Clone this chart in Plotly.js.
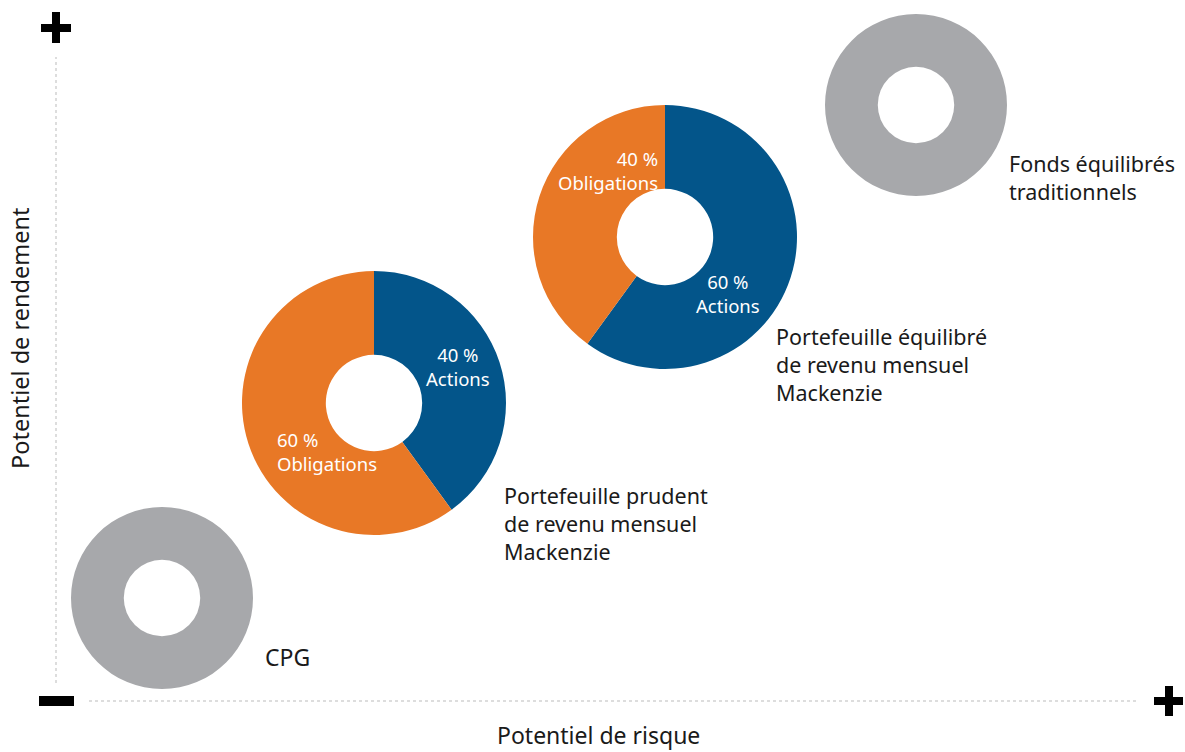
<!DOCTYPE html>
<html>
<head>
<meta charset="utf-8">
<script src="https://cdn.plot.ly/plotly-3.0.1.min.js"></script>
<style>html,body{margin:0;padding:0;background:#fff;}#chart{width:1185px;height:752px;}</style>
</head>
<body>
<div id="chart"></div>
<script>
// ---- data ----
const portfolios = ["CPG", "Portefeuille prudent<br>de revenu mensuel<br>Mackenzie", "Portefeuille équilibré<br>de revenu mensuel<br>Mackenzie", "Fonds équilibrés<br>traditionnels"];
const sliceLabels = [["CPG"], ["Actions", "Obligations"], ["Actions", "Obligations"], ["Fonds équilibrés"]];
const sliceValues = [[100], [40, 60], [60, 40], [100]];
const showPct = [false, true, true, false];
const xAxisTitle = "Potentiel de risque";
const yAxisTitle = "Potentiel de rendement";

// ---- layout config (positions in px) ----
const W = 1185, H = 752;
const pieGeom = [
  {cx: 162, cy: 598, r: 91, hole: 0.42},
  {cx: 374, cy: 403, r: 132, hole: 0.365},
  {cx: 665, cy: 237, r: 132, hole: 0.365},
  {cx: 916, cy: 105, r: 91, hole: 0.42}
];
const sliceColors = {"Actions": "#03558a", "Obligations": "#e87826"};
const grey = "#a7a8ab";
const namePos = [
  {x: 263, y: 657, size: 23}, {x: 502, y: 523, size: 21.5}, {x: 774, y: 364, size: 21.5}, {x: 1007, y: 177, size: 21.5}
];
// inside label positions per pie, per slice
const innerPos = [
  null,
  [{x: 458, y: 366, anchor: "center"}, {x: 275, y: 451, anchor: "left"}],
  [{x: 728, y: 293, anchor: "center"}, {x: 660, y: 170, anchor: "right"}],
  null
];

const px = x => x / W;
const py = y => 1 - y / H;

const traces = portfolios.map((p, i) => {
  const g = pieGeom[i];
  return {
    type: "pie",
    name: p,
    labels: sliceLabels[i],
    values: sliceValues[i],
    hole: g.hole,
    sort: false,
    direction: "clockwise",
    rotation: 0,
    textinfo: "none",
    hoverinfo: "label+percent",
    marker: {colors: sliceLabels[i].map(l => sliceColors[l] || grey), line: {width: 0}},
    domain: {x: [px(g.cx - g.r), px(g.cx + g.r)], y: [py(g.cy + g.r), py(g.cy - g.r)]},
    showlegend: false
  };
});

const font = "'Noto Sans', 'Open Sans', sans-serif";
const annotations = [];
portfolios.forEach((p, i) => {
  annotations.push({
    xref: "paper", yref: "paper", x: px(namePos[i].x), y: py(namePos[i].y),
    xanchor: "left", yanchor: "middle", align: "left", showarrow: false,
    text: p, font: {family: font, size: namePos[i].size, color: "#1a1a1a"}
  });
  if (showPct[i]) {
    const total = sliceValues[i].reduce((a, b) => a + b, 0);
    sliceLabels[i].forEach((l, j) => {
      const pos = innerPos[i][j];
      annotations.push({
        xref: "paper", yref: "paper", x: px(pos.x), y: py(pos.y),
        xanchor: pos.anchor, yanchor: "middle", align: pos.anchor, showarrow: false,
        text: Math.round(sliceValues[i][j] / total * 100) + " %<br>" + l,
        font: {family: font, size: 18.5, color: "#ffffff"}
      });
    });
  }
});
annotations.push({
  xref: "paper", yref: "paper", x: px(598.5), y: py(735), xanchor: "center", yanchor: "middle",
  showarrow: false, borderpad: 0, text: xAxisTitle, font: {family: font, size: 23, color: "#1a1a1a"}
});
annotations.push({
  xref: "paper", yref: "paper", x: px(20), y: py(339), xanchor: "center", yanchor: "middle",
  showarrow: false, textangle: -90, text: yAxisTitle, font: {family: font, size: 23.5, color: "#1a1a1a"}
});

const rect = (x0, y0, x1, y1) => ({type: "rect", xref: "paper", yref: "paper",
  x0: px(x0), x1: px(x1), y0: py(y1), y1: py(y0), fillcolor: "#000", line: {width: 0}});
const shapes = [
  {type: "line", xref: "paper", yref: "paper", x0: px(56), x1: px(56), y0: py(683), y1: py(57),
   line: {color: "#d2d2d2", width: 1.5, dash: "dot"}},
  {type: "line", xref: "paper", yref: "paper", x0: px(89), x1: px(1136), y0: py(701), y1: py(701),
   line: {color: "#d2d2d2", width: 1.5, dash: "dot"}},
  // top plus
  rect(41, 24, 71, 32), rect(52, 12, 60, 43),
  // minus
  rect(39, 696, 74, 706),
  // right plus
  rect(1154, 697, 1183, 705), rect(1165, 686, 1173, 716)
];

Plotly.newPlot("chart", traces, {
  width: W, height: H,
  margin: {l: 0, r: 0, t: 0, b: 0},
  paper_bgcolor: "#ffffff", plot_bgcolor: "#ffffff",
  annotations: annotations, shapes: shapes
}, {displayModeBar: false, staticPlot: false});
</script>
</body>
</html>
